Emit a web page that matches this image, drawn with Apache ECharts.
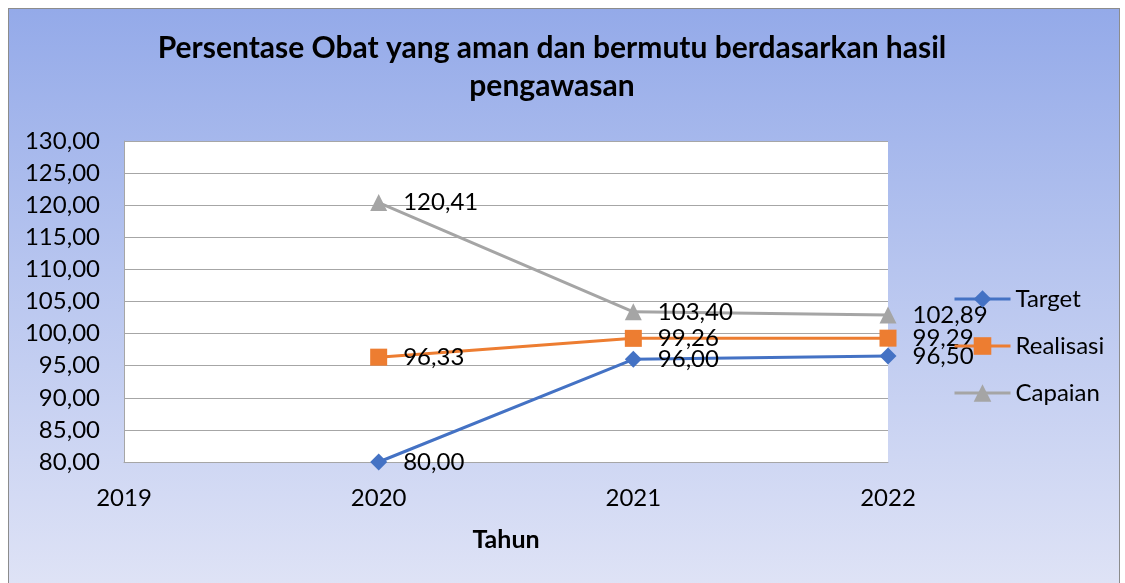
<!DOCTYPE html>
<html><head><meta charset="utf-8">
<script src="https://cdn.jsdelivr.net/npm/echarts@6/dist/echarts.min.js"></script>
<style>
html,body{margin:0;padding:0;background:#fff;width:1125px;height:583px;overflow:hidden;}
#bg{position:absolute;left:8px;top:8px;width:1110px;height:580px;border-left:1px solid #8c8c8c;border-top:1px solid #8c8c8c;border-right:1px solid #8c8c8c;
background:linear-gradient(to bottom,#94aae9 0%,#b7c5ef 45%,#dfe3f6 100%);}
#chart{position:absolute;left:0;top:0;width:1125px;height:583px;}
</style></head>
<body>
<div id="bg"></div>
<div id="chart"></div>
<script>
const categories = ['2019', '2020', '2021', '2022'];
const target = [null, 80.00, 96.00, 96.50];
const realisasi = [null, 96.33, 99.26, 99.29];
const capaian = [null, 120.41, 103.40, 102.89];
const seriesNames = ['Target', 'Realisasi', 'Capaian'];
const titleText = 'Persentase Obat yang aman dan bermutu berdasarkan hasil\npengawasan';
const xAxisTitle = 'Tahun';

const fmt = v => Number(v).toFixed(2).replace('.', ',');
const FONT = 'Lato';
const FS = 24;
const chart = echarts.init(document.getElementById('chart'), null, {renderer: 'canvas'});

function mk(name, data, color, symbol, size) {
  return {
    name: name, type: 'line', data: data, connectNulls: false,
    symbol: symbol, symbolSize: size,
    lineStyle: {color: color, width: 3},
    itemStyle: {color: color},
    label: {show: true, position: 'right', distance: 16, color: '#000', fontFamily: FONT, fontSize: FS,
      formatter: p => fmt(p.value)},
    emphasis: {disabled: true},
    z: 3
  };
}

chart.setOption({
  animation: false,
  backgroundColor: 'transparent',
  title: {
    text: titleText, left: 547, top: 24, textAlign: 'center',
    textStyle: {fontFamily: FONT, fontWeight: 'bold', fontSize: 30, color: '#000', lineHeight: 38}
  },
  grid: {left: 124, right: 237, top: 141, bottom: 121, show: true, backgroundColor: '#fff', borderWidth: 0, containLabel: false},
  legend: {
    orient: 'vertical', left: 948, top: 282, itemWidth: 56, itemHeight: 22, itemGap: 23,
    lineStyle: {width: 3},
    textStyle: {fontFamily: FONT, fontSize: FS, color: '#000'},
    data: seriesNames
  },
  xAxis: {
    type: 'category', data: categories, boundaryGap: false,
    name: xAxisTitle, nameLocation: 'middle', nameGap: 65,
    nameTextStyle: {fontFamily: FONT, fontWeight: 'bold', fontSize: 25, color: '#000'},
    axisLine: {show: true, lineStyle: {color: '#a6a6a6', width: 1}},
    axisTick: {show: false},
    axisLabel: {fontFamily: FONT, fontSize: FS, color: '#000', margin: 24},
    splitLine: {show: false}
  },
  yAxis: {
    type: 'value', min: 80, max: 130, interval: 5,
    axisLine: {show: true, lineStyle: {color: '#a6a6a6', width: 1}},
    axisTick: {show: false},
    axisLabel: {fontFamily: FONT, fontSize: FS, color: '#000', margin: 24, formatter: v => fmt(v)},
    splitLine: {show: true, lineStyle: {color: '#a6a6a6', width: 1}}
  },
  series: [
    mk(seriesNames[0], target, '#4472c4', 'diamond', 17),
    mk(seriesNames[1], realisasi, '#ed7d31', 'rect', 17),
    mk(seriesNames[2], capaian, '#a5a5a5', 'triangle', 17)
  ]
});
</script>
</body></html>
